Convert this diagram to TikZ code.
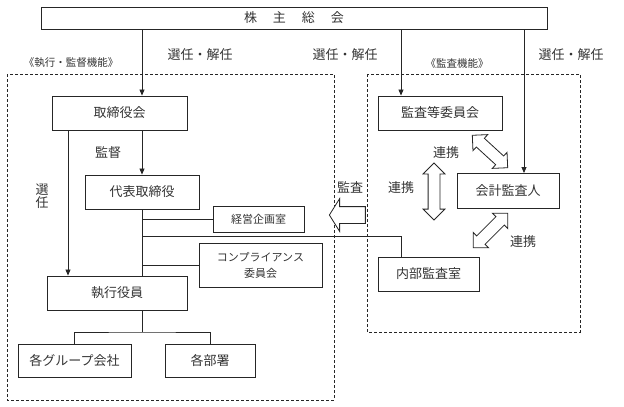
\documentclass[tikz,border=0pt]{standalone}
\usepackage{fontspec}
\newfontfamily\jpfont{Noto Sans CJK JP}
\usetikzlibrary{arrows.meta,shapes.arrows}

\begin{document}
\begin{tikzpicture}[x=1pt,y=-1pt,
    font=\jpfont\fontsize{13}{14}\selectfont, text=black!80,
    box/.style={draw=black!85, line width=0.9pt, minimum height=34pt, inner sep=0pt},
    smallbox/.style={box, align=center, font=\jpfont\fontsize{11}{16}\selectfont},
    link/.style={draw=black!85, line width=0.8pt},
    tip/.style={link, -{Triangle[length=6pt,width=5pt]}},
    area/.style={draw=black!85, line width=0.7pt, dash pattern=on 3pt off 2pt},
    hollow/.style={double arrow, draw=black!85, line width=0.8pt, fill=white,
      inner sep=5.5pt, double arrow head extend=5pt},
    tag/.style={font=\jpfont\fontsize{10.5}{12}\selectfont}]
  \useasboundingbox (0,0) rectangle (624,407);

  % areas
  \draw[area] (7,74) rectangle (334,400);
  \draw[area] (367,74) rectangle (580,332);
  \node[tag] (execlabel) at (71,63) {《執行・監督機能》};
  \node[tag] (auditlabel) at (457,64) {《監査機能》};

  % boxes
  \node[box, minimum width=506pt, minimum height=22pt] (soukai) at (294,18)
    {株\hspace{16pt}主\hspace{16pt}総\hspace{16pt}会};
  \node[box, minimum width=135pt] (torishimari) at (119.5,113) {取締役会};
  \node[box, minimum width=114pt] (daihyo) at (142,192) {代表取締役};
  \node[smallbox, minimum width=91pt, minimum height=26pt] (keiei) at (258.5,219) {経営企画室};
  \node[smallbox, minimum width=123pt, minimum height=44pt] (compliance) at (260.5,265)
    {コンプライアンス\\委員会};
  \node[box, minimum width=140pt] (shikko) at (117,293) {執行役員};
  \node[box, minimum width=113pt, minimum height=33pt] (group) at (74.5,360.5) {各グループ会社};
  \node[box, minimum width=90pt, minimum height=33pt] (bumon) at (210,360.5) {各部署};
  \node[box, minimum width=124pt] (kansa) at (440,113) {監査等委員会};
  \node[box, minimum width=102pt, minimum height=35pt] (kaikei) at (508,191) {会計監査人};
  \node[box, minimum width=101pt] (naibu) at (428.5,274) {内部監査室};

  \coordinate (seninline) at (68,0);
  \coordinate (kansaline) at (401,236);
  \coordinate (kaikeiline) at (524,0);
  \coordinate (fork) at (142,332);

  % connectors
  \draw[tip] (soukai.south -| daihyo) -- (torishimari.north -| daihyo);
  \draw[tip] (soukai.south -| kansaline) -- (kansa.north -| kansaline);
  \draw[tip] (soukai.south -| kaikeiline) -- (kaikei.north -| kaikeiline);
  \draw[tip] (torishimari.south -| seninline) -- (shikko.north -| seninline);
  \draw[tip] (torishimari.south -| daihyo) -- (daihyo.north);
  \draw[link] (daihyo.south) -- (shikko.north -| daihyo);
  \draw[link] (daihyo.south |- keiei.west) -- (keiei.west);
  \draw[link] (daihyo.south |- compliance.west) -- (compliance.west);
  \draw[link] (daihyo.south |- kansaline) -- (kansaline) -- (naibu.north -| kansaline);
  \draw[link] (shikko.south -| daihyo) -- (fork);
  \draw[link] (group.north) |- (fork) -| (bumon.north);

  % hollow arrows
  \node[hollow, minimum height=48pt, rotate=-42.5] (renkei1) at (490,151.5) {};
  \node[hollow, minimum height=57pt, rotate=90] (renkei2) at (434,191.5) {};
  \node[hollow, minimum height=49pt, rotate=45] (renkei3) at (490.5,230.5) {};
  \node[single arrow, draw=black!85, line width=0.8pt, fill=white, inner sep=8pt,
    single arrow head extend=8pt, single arrow tip angle=116, minimum height=36pt,
    shape border rotate=180] (kansaarrow) at (350,215) {};

  % labels
  \node (sennin1) at (200,55) {選任・解任};
  \node (sennin2) at (345,55) {選任・解任};
  \node (sennin3) at (571,55) {選任・解任};
  \node (kantoku) at (108,153) {監督};
  \node[align=center, font=\jpfont\fontsize{13}{13.5}\selectfont] (senin) at (42,196) {選\\任};
  \node (renkeilabel1) at (446,153) {連携};
  \node (renkeilabel2) at (401,188) {連携};
  \node (renkeilabel3) at (523,242) {連携};
  \node (kansalabel) at (350,187) {監査};
\end{tikzpicture}
\end{document}
